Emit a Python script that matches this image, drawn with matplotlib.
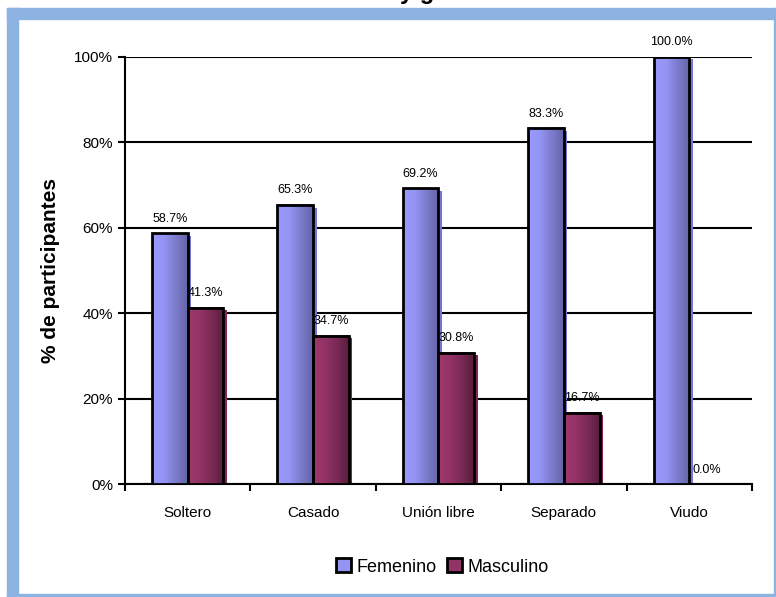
import matplotlib
matplotlib.use("Agg")
import matplotlib.pyplot as plt
import numpy as np
from matplotlib.colors import LinearSegmentedColormap
from matplotlib.patches import Rectangle
from matplotlib.ticker import FuncFormatter

plt.rcParams["font.family"] = ["Liberation Sans", "DejaVu Sans"]

categorias = ["Soltero", "Casado", "Unión libre", "Separado", "Viudo"]
femenino = [58.7, 65.3, 69.2, 83.3, 100.0]
masculino = [41.3, 34.7, 30.8, 16.7, 0.0]
series = ["Femenino", "Masculino"]
yticks = [0, 20, 40, 60, 80, 100]

AZUL = ["#9A9AFF", "#9494F4", "#7C7CCC", "#6464A8"]
GRANATE = ["#A0386E", "#933366", "#7A2A55", "#5A1D3D"]
SOMBRA_AZUL = "#7474D6"
SOMBRA_GRANATE = "#7E2852"
BORDE = "#8DB3E2"

fig = plt.figure(figsize=(7.76, 5.97), dpi=100)
ax = fig.add_axes([0.161, 0.189, 0.808, 0.716])

# marco azul de la imagen
W, H = 776.0, 597.0
for (x0, y0, w, h) in [(7, 8, 769, 11), (7, 8, 11, 589), (774, 8, 2, 589), (7, 594, 769, 3)]:
    fig.patches.append(Rectangle((x0 / W, 1 - (y0 + h) / H), w / W, h / H,
                                 transform=fig.transFigure, color=BORDE, zorder=0))

# titulo (cortado arriba, como en la imagen original)
fig.text(0.49, 1 + 1.0 / H, "Estado civil y género", ha="center", va="baseline",
         fontsize=17, fontweight="bold")

cmap_azul = LinearSegmentedColormap.from_list("az", AZUL)
cmap_gra = LinearSegmentedColormap.from_list("gr", GRANATE)
grad = np.linspace(0, 1, 64).reshape(1, -1)

ancho = 0.285
x = np.arange(len(categorias))

def barra(xc, valor, cmap, sombra):
    x0 = xc - ancho / 2
    # sombra
    ax.bar(xc + 0.028, max(valor - 0.6, 0), ancho, color=sombra, zorder=2)
    if valor > 0:
        ax.imshow(grad, extent=[x0, x0 + ancho, 0, valor], aspect="auto",
                  cmap=cmap, zorder=3, interpolation="bilinear")
        ax.bar(xc, valor, ancho, facecolor="none", edgecolor="black",
               linewidth=2, zorder=4)

for i in range(len(categorias)):
    xf = x[i] - ancho / 2
    xm = x[i] + ancho / 2
    barra(xf, femenino[i], cmap_azul, SOMBRA_AZUL)
    barra(xm, masculino[i], cmap_gra, SOMBRA_GRANATE)
    ax.text(xf, femenino[i] + 2, f"{femenino[i]:.1f}%", ha="center", va="bottom",
            fontsize=9, clip_on=False)
    ax.text(xm, masculino[i] + 2, f"{masculino[i]:.1f}%", ha="center", va="bottom",
            fontsize=9, clip_on=False)

ax.set_xlim(-0.5, len(categorias) - 0.5)
ax.set_ylim(0, 100)

ax.set_yticks(yticks)
ax.yaxis.set_major_formatter(FuncFormatter(lambda v, p: f"{v:.0f}%"))
ax.tick_params(axis="y", direction="out", length=5, width=1.5, labelsize=11)
ax.grid(axis="y", color="black", linewidth=1.5, zorder=1)
ax.set_axisbelow(True)

ax.set_xticks(x)
ax.set_xticklabels(categorias, fontsize=11)
ax.tick_params(axis="x", length=0, pad=16)
ax.set_xticks(np.arange(-0.5, len(categorias)), minor=True)
ax.tick_params(axis="x", which="minor", direction="out", length=5, width=1.5)

for s in ["top", "right"]:
    ax.spines[s].set_visible(False)
ax.spines["left"].set_linewidth(1.5)
ax.spines["bottom"].set_linewidth(1.5)

ax.set_ylabel("% de participantes", fontsize=15, fontweight="bold")
ax.yaxis.set_label_coords(-0.104, 0.5)

handles = [Rectangle((0, 0), 1, 1, facecolor=AZUL[1], edgecolor="black", linewidth=2),
           Rectangle((0, 0), 1, 1, facecolor=GRANATE[1], edgecolor="black", linewidth=2)]
fig.legend(handles, series, loc="center", bbox_to_anchor=(0.57, 1 - 567 / H), ncol=2,
           frameon=False, fontsize=13, handlelength=0.8, handleheight=0.8,
           handletextpad=0.3, columnspacing=0.6)

fig.savefig("out.png", dpi=100)
